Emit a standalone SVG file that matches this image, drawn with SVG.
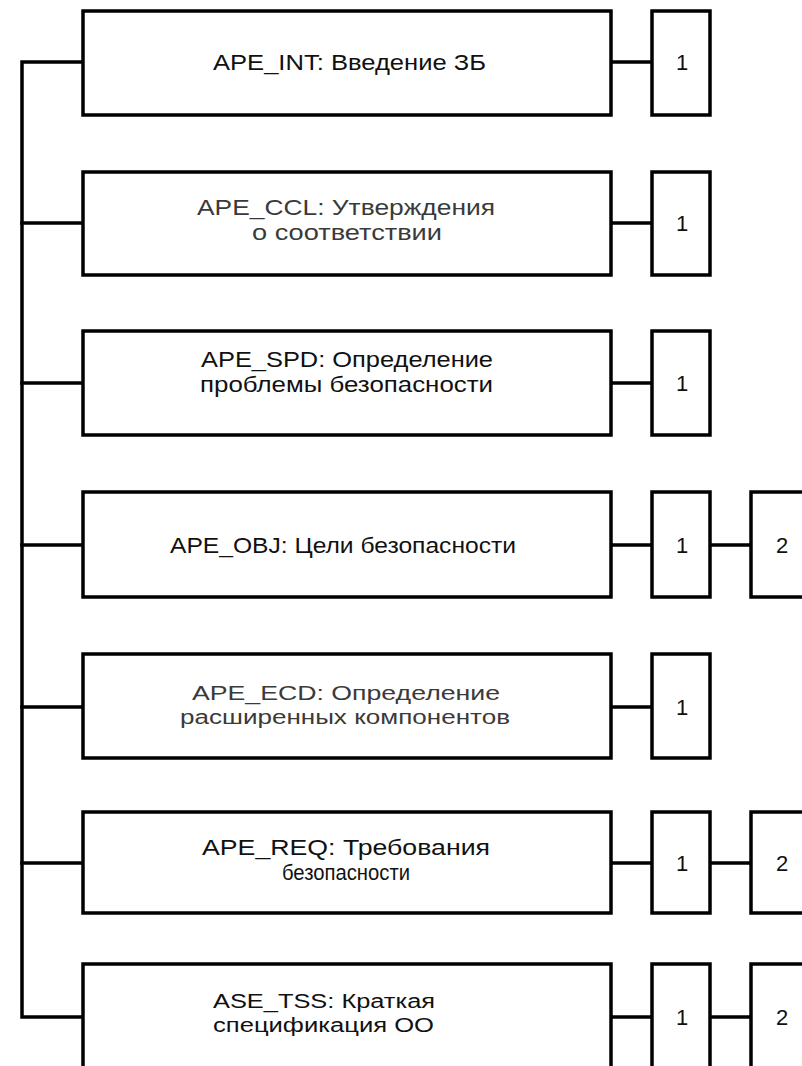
<svg xmlns="http://www.w3.org/2000/svg" width="802" height="1066" viewBox="0 0 802 1066">
<style>
.box{fill:#fff;stroke:#000;stroke-width:3.5}
.ln{fill:none;stroke:#000;stroke-width:3.5;stroke-linejoin:miter;stroke-linecap:square}
.t{font-family:"Liberation Sans",Arial,sans-serif;font-size:22px;fill:#111}
.s{font-size:20px}
.g{fill:#3a3a3a}
.n{font-family:"Liberation Sans",Arial,sans-serif;font-size:22px;fill:#111;text-anchor:middle}
</style>
<rect width="802" height="1066" fill="#fff"/>
<g id="connectors">
<path class="ln" d="M83 62 H22 V1017 H83"/>
<path class="ln" d="M22 223 H83 M22 383 H83 M22 545 H83 M22 707 H83 M22 863 H83"/>
<path class="ln" d="M611 62 H652 M611 223 H652 M611 383 H652 M611 545 H652 M611 707 H652 M611 863 H652 M611 1017 H652"/>
<path class="ln" d="M710 545 H751 M710 863 H751 M710 1017 H751"/>
</g>
<g id="ape_int">
<rect class="box" x="83" y="11" width="528" height="104"/>
<text class="t" x="213" y="70" textLength="273" lengthAdjust="spacingAndGlyphs">APE_INT: Введение ЗБ</text>
</g>
<g id="ape_int_1"><rect class="box" x="652" y="11" width="58" height="104"/><text class="n" x="682" y="70">1</text></g>
<g id="ape_ccl">
<rect class="box" x="83" y="172" width="528" height="103"/>
<text class="t g" x="197" y="215" textLength="298" lengthAdjust="spacingAndGlyphs">APE_CCL: Утверждения</text>
<text class="t g" x="252" y="240" textLength="190" lengthAdjust="spacingAndGlyphs">о соответствии</text>
</g>
<g id="ape_ccl_1"><rect class="box" x="652" y="172" width="58" height="103"/><text class="n" x="682" y="231">1</text></g>
<g id="ape_spd">
<rect class="box" x="83" y="331" width="528" height="104"/>
<text class="t" x="201" y="367" textLength="292" lengthAdjust="spacingAndGlyphs">APE_SPD: Определение</text>
<text class="t" x="200" y="392" textLength="293" lengthAdjust="spacingAndGlyphs">проблемы безопасности</text>
</g>
<g id="ape_spd_1"><rect class="box" x="652" y="331" width="58" height="104"/><text class="n" x="682" y="391">1</text></g>
<g id="ape_obj">
<rect class="box" x="83" y="492" width="528" height="105"/>
<text class="t" x="170" y="553" textLength="346" lengthAdjust="spacingAndGlyphs">APE_OBJ: Цели безопасности</text>
</g>
<g id="ape_obj_1"><rect class="box" x="652" y="492" width="58" height="105"/><text class="n" x="682" y="553">1</text></g>
<g id="ape_obj_2"><rect class="box" x="751" y="492" width="70" height="105"/><text class="n" x="782" y="553">2</text></g>
<g id="ape_ecd">
<rect class="box" x="83" y="654" width="528" height="104"/>
<text class="t s g" x="192" y="700" textLength="308" lengthAdjust="spacingAndGlyphs">APE_ECD: Определение</text>
<text class="t s g" x="180" y="724" textLength="330" lengthAdjust="spacingAndGlyphs">расширенных компонентов</text>
</g>
<g id="ape_ecd_1"><rect class="box" x="652" y="654" width="58" height="104"/><text class="n" x="682" y="715">1</text></g>
<g id="ape_req">
<rect class="box" x="83" y="812" width="528" height="101"/>
<text class="t" x="202" y="855" textLength="288" lengthAdjust="spacingAndGlyphs">APE_REQ: Требования</text>
<text class="t" x="282" y="880" textLength="128" lengthAdjust="spacingAndGlyphs">безопасности</text>
</g>
<g id="ape_req_1"><rect class="box" x="652" y="812" width="58" height="101"/><text class="n" x="682" y="871">1</text></g>
<g id="ape_req_2"><rect class="box" x="751" y="812" width="70" height="101"/><text class="n" x="782" y="871">2</text></g>
<g id="ase_tss">
<rect class="box" x="83" y="964" width="528" height="105"/>
<text class="t s" x="213" y="1008" textLength="222" lengthAdjust="spacingAndGlyphs">ASE_TSS: Краткая</text>
<text class="t s" x="213" y="1032" textLength="221" lengthAdjust="spacingAndGlyphs">спецификация ОО</text>
</g>
<g id="ase_tss_1"><rect class="box" x="652" y="964" width="58" height="105"/><text class="n" x="682" y="1025">1</text></g>
<g id="ase_tss_2"><rect class="box" x="751" y="964" width="70" height="105"/><text class="n" x="782" y="1025">2</text></g>
</svg>
